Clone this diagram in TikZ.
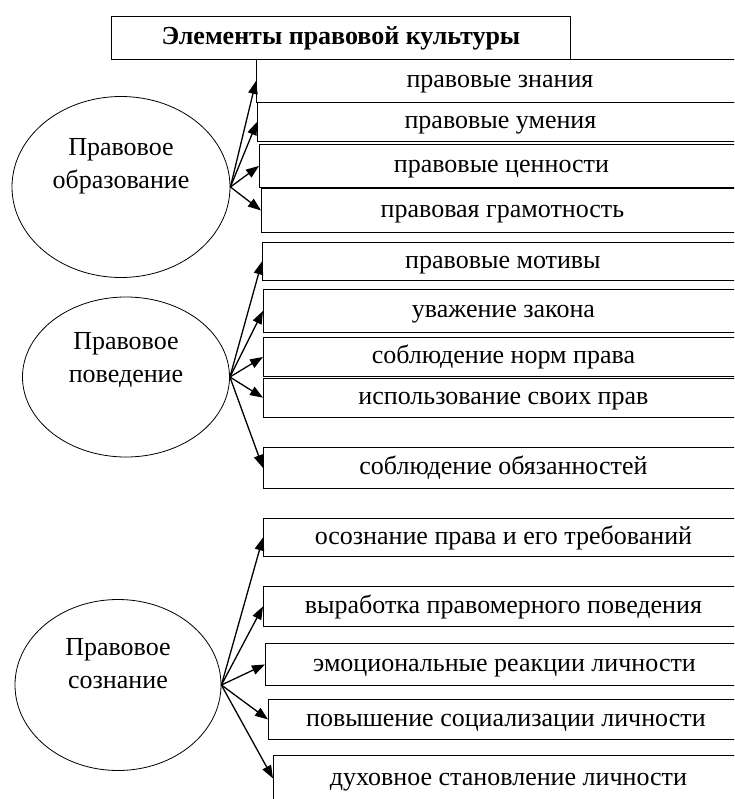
\documentclass[tikz,border=0pt]{standalone}
\usepackage{fontspec}
\setmainfont{Liberation Serif}
\usetikzlibrary{shapes.geometric,arrows.meta}
\begin{document}
\begin{tikzpicture}[x=1pt,y=-1pt,font=\fontsize{26}{33}\selectfont,
    item/.style 2 args={draw,line width=0.9pt,inner sep=0pt,anchor=north west,minimum width=#1pt,minimum height=#2pt,text height=20pt,text depth=6pt},
    oval/.style={ellipse,draw,line width=0.8pt,inner sep=0pt},
    lbl/.style={align=center},
    link/.style={-{Triangle[length=13pt,width=9.5pt]},line width=1.3pt}]
  \clip (0,0) rectangle (734,799);
  \node[item={459}{43},font=\fontsize{26}{30}\selectfont\bfseries] (title) at (111,16) {Элементы правовой культуры};
  % правовое образование
  \node[oval,minimum width=218pt,minimum height=181pt,label={[lbl,yshift=21pt]center:Правовое\\образование}] (edu) at (121,187) {};
  \node[item={487}{43}] (edu1) at (256,59) {правовые знания};
  \node[item={486}{39}] (edu2) at (257,102) {правовые умения};
  \node[item={484}{43}] (edu3) at (259,144) {правовые ценности};
  \node[item={482}{44}] (edu4) at (261,188) {правовая грамотность};
  % правовое поведение
  \node[oval,minimum width=207pt,minimum height=160pt,label={[lbl,yshift=17pt]center:Правовое\\поведение}] (beh) at (126,377) {};
  \node[item={481}{38}] (beh1) at (262,242) {правовые мотивы};
  \node[item={480}{43}] (beh2) at (263,289) {уважение закона};
  \node[item={480}{39}] (beh3) at (263,337) {соблюдение норм права};
  \node[item={480}{39.5}] (beh4) at (263,377.5) {использование своих прав};
  \node[item={480}{41}] (beh5) at (263,447) {соблюдение обязанностей};
  % правовое сознание
  \node[oval,minimum width=206pt,minimum height=171pt,label={[lbl,yshift=21pt]center:Правовое\\сознание}] (con) at (118,685) {};
  \node[item={480}{38}] (con1) at (263,518) {осознание права и его требований};
  \node[item={480}{40}] (con2) at (263,586) {выработка правомерного поведения};
  \node[item={478}{42}] (con3) at (265,643) {эмоциональные реакции личности};
  \node[item={475}{40}] (con4) at (268,699) {повышение социализации личности};
  \node[item={470}{46}] (con5) at (273,755) {духовное становление личности};
  \foreach \k in {edu1,edu2,edu3,edu4}
    \draw[link] (edu.east) -- (\k.west);
  \foreach \k in {beh1,beh2,beh3,beh4,beh5}
    \draw[link] (beh.east) -- (\k.west);
  \foreach \k in {con1,con2,con3,con4,con5}
    \draw[link] (con.east) -- (\k.west);
\end{tikzpicture}
\end{document}
